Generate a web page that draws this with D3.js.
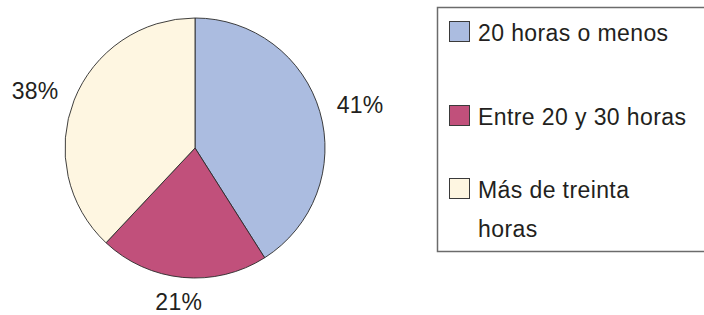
<!DOCTYPE html>
<html>
<head>
<meta charset="utf-8">
<script src="https://cdn.jsdelivr.net/npm/d3@7"></script>
<style>
  body { margin: 0; background: #fff; }
  text { font-family: "Liberation Sans", Arial, sans-serif; fill: #231f20; }
</style>
</head>
<body>
<div id="chart"></div>
<script>
// data
var categories = ["20 horas o menos", "Entre 20 y 30 horas", "Más de treinta horas"];
var legendLines = [["20 horas o menos"], ["Entre 20 y 30 horas"], ["Más de treinta", "horas"]];
var values = [41, 21, 38];
var labels = ["41%", "21%", "38%"];
var colors = ["#abbce0", "#c1507b", "#fef6e1"];

var width = 704, height = 315;
var svg = d3.select("#chart").append("svg")
    .attr("width", width)
    .attr("height", height);

// pie
var cx = 195, cy = 148, radius = 130;
var pie = d3.pie().sort(null).value(function (d) { return d; });
var arcs = pie(values);
var arc = d3.arc().innerRadius(0).outerRadius(radius);

var g = svg.append("g").attr("transform", "translate(" + cx + "," + cy + ")");
g.selectAll("path")
    .data(arcs)
    .enter()
    .append("path")
    .attr("d", arc)
    .style("fill", function (d, i) { return colors[i]; })
    .style("stroke", "#2a2a2a")
    .style("stroke-width", 0.9);

// percent labels, outside the pie (on a slightly flattened ring)
var rx = 172, ry = 155;
g.selectAll("text.lbl")
    .data(arcs)
    .enter()
    .append("text")
    .attr("class", "lbl")
    .attr("x", function (d) { var a = (d.startAngle + d.endAngle) / 2; return rx * Math.sin(a); })
    .attr("y", function (d) { var a = (d.startAngle + d.endAngle) / 2; return -ry * Math.cos(a); })
    .attr("text-anchor", "middle")
    .attr("dy", "0.35em")
    .style("font-size", "23px")
    .style("letter-spacing", "0.3px")
    .text(function (d, i) { return labels[i]; });

// legend
var legend = svg.append("g");
legend.append("rect")
    .attr("x", 437.5).attr("y", 7.5)
    .attr("width", 300).attr("height", 244)
    .style("fill", "none")
    .style("stroke", "#6b6b6b")
    .style("stroke-width", 1.5);

var baselines = [41, 125, 198];
var lineHeight = 39;
for (var i = 0; i < categories.length; i++) {
    legend.append("rect")
        .attr("x", 449.5).attr("y", baselines[i] - 19.5)
        .attr("width", 20).attr("height", 20)
        .style("fill", colors[i])
        .style("stroke", "#3a3a3a")
        .style("stroke-width", 1);
    for (var j = 0; j < legendLines[i].length; j++) {
        legend.append("text")
            .attr("x", 478)
            .attr("y", baselines[i] + j * lineHeight)
            .style("font-size", "23px")
            .style("letter-spacing", "0.4px")
            .text(legendLines[i][j]);
    }
}
</script>
</body>
</html>
